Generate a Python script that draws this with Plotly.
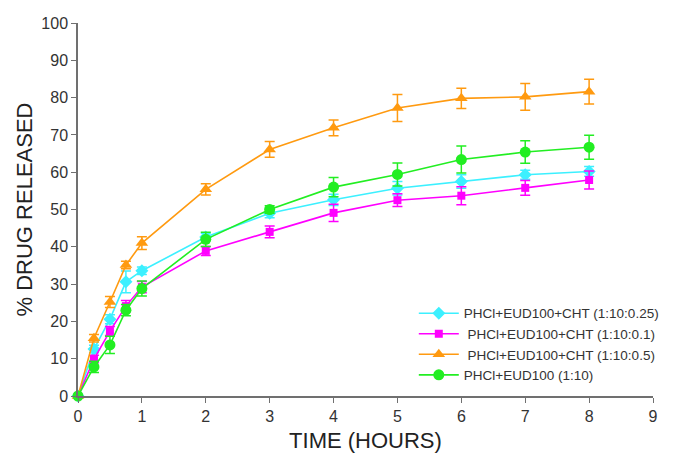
import plotly.graph_objects as go

time_h = [0, 0.25, 0.5, 0.75, 1, 2, 3, 4, 5, 6, 7, 8]

names = [
    "PHCl+EUD100+CHT (1:10:0.25)",
    " PHCl+EUD100+CHT (1:10:0.1)",
    " PHCl+EUD100+CHT (1:10:0.5)",
    "PHCl+EUD100 (1:10)",
]

cht_025 = [0, 12.6, 20.6, 30.6, 33.6, 42.6, 49.0, 52.6, 55.7, 57.5, 59.3, 60.2]
cht_025_err = [0, 1.0, 1.2, 2.9, 1.0, 1.0, 1.2, 1.5, 1.8, 1.8, 1.2, 1.3]

cht_01 = [0, 9.9, 17.4, 24.1, 29.2, 38.9, 44.0, 49.1, 52.5, 53.7, 55.8, 57.9]
cht_01_err = [0, 1.0, 1.2, 1.5, 1.5, 1.2, 1.6, 2.3, 1.7, 2.4, 2.0, 2.4]

cht_05 = [0, 15.5, 25.2, 35.1, 41.0, 55.4, 66.1, 71.9, 77.2, 79.8, 80.2, 81.6]
cht_05_err = [0, 1.0, 1.5, 1.0, 1.7, 1.5, 2.1, 2.1, 3.6, 2.7, 3.6, 3.3]

eud = [0, 7.8, 13.7, 23.0, 28.8, 42.0, 50.0, 56.0, 59.4, 63.4, 65.4, 66.7]
eud_err = [0, 1.5, 2.3, 1.5, 2.0, 1.9, 1.0, 2.6, 3.1, 3.6, 3.0, 3.2]

series = [
    (cht_025, cht_025_err, "#3CF0FF", "diamond", 10),
    (cht_01, cht_01_err, "#FF00FF", "square", 8),
    (cht_05, cht_05_err, "#FF9A10", "triangle-up", 11),
    (eud, eud_err, "#22EE22", "circle", 11),
]

fig = go.Figure()
for name, (vals, errs, color, sym, size) in zip(names, series):
    fig.add_trace(go.Scatter(
        x=time_h, y=vals, name=name, mode="lines+markers",
        line=dict(color=color, width=1.6),
        marker=dict(color=color, symbol=sym, size=size, line=dict(width=0)),
        error_y=dict(type="data", array=errs, visible=True, color=color,
                     thickness=1.5, width=5),
        cliponaxis=False,
    ))

fig.update_layout(
    width=670, height=445,
    margin=dict(l=70, r=25, t=15, b=57),
    paper_bgcolor="white", plot_bgcolor="white",
    font=dict(family="Liberation Sans, Arial, sans-serif", color="#333333"),
    showlegend=True,
    legend=dict(
        x=0.584, y=0.263, xanchor="left", yanchor="top",
        font=dict(size=13.5, color="#333333"),
        bgcolor="rgba(0,0,0,0)",
        tracegroupgap=0, itemwidth=40,
    ),
    xaxis=dict(
        range=[0, 9], tickvals=list(range(10)), automargin=False,
        showline=True, linecolor="#707070", linewidth=1.5,
        ticks="outside", ticklen=5, tickcolor="#707070", tickwidth=1.2,
        showgrid=False, zeroline=False,
        tickfont=dict(size=16, color="#333333"),
        title=dict(text="TIME (HOURS)", font=dict(size=22, color="#222222"), standoff=15),
    ),
    yaxis=dict(
        range=[0, 100], tickvals=list(range(0, 101, 10)), automargin=False,
        showline=True, linecolor="#707070", linewidth=1.5,
        ticks="outside", ticklen=5, tickcolor="#707070", tickwidth=1.2,
        showgrid=False, zeroline=False,
        tickfont=dict(size=16, color="#333333"),
        title=dict(text="% DRUG RELEASED", font=dict(size=22, color="#222222"), standoff=3),
    ),
)

fig.write_html("out.html")
